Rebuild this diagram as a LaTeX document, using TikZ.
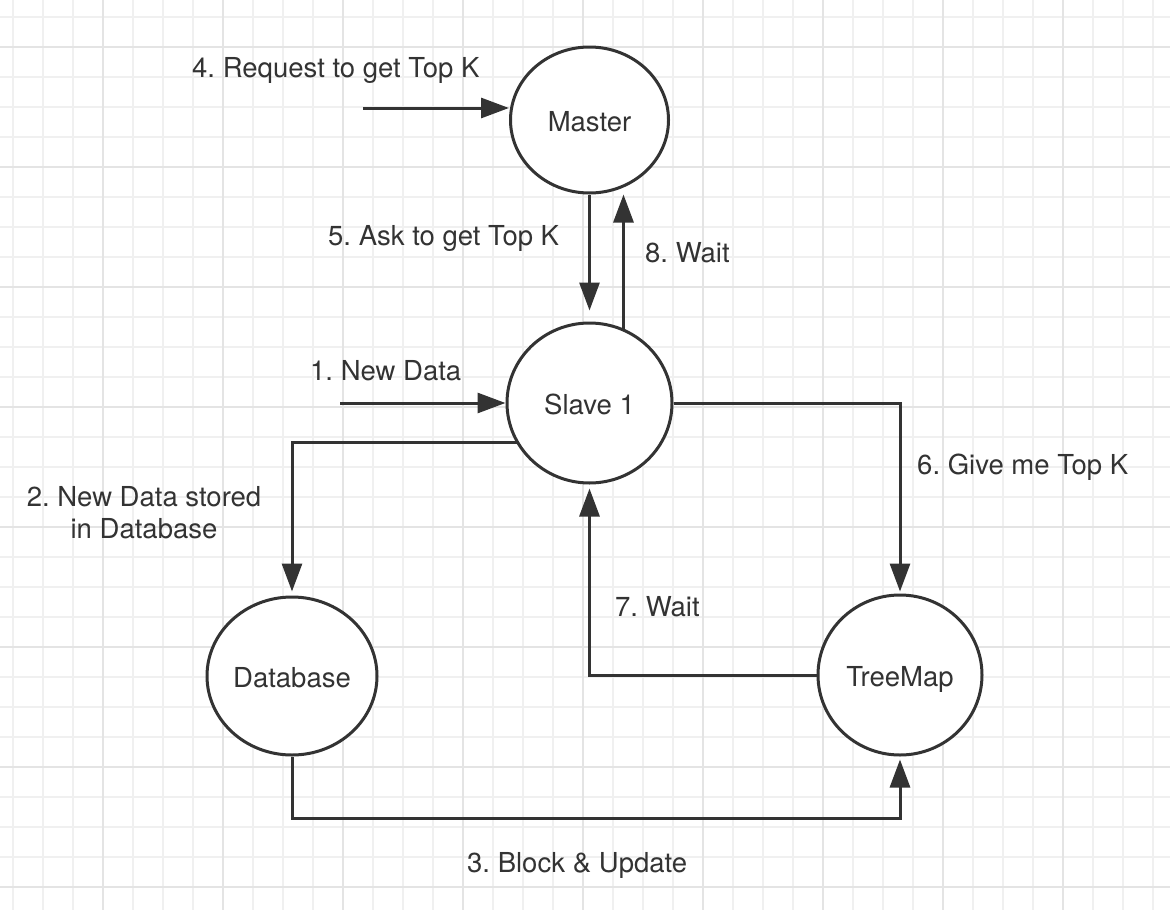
\documentclass[tikz,border=0pt]{standalone}
\usepackage{fontspec}
\setmainfont{TeX Gyre Heros}
\usetikzlibrary{shapes.geometric,arrows.meta}
\definecolor{ink}{HTML}{333333}
\definecolor{gridminor}{HTML}{F0F0F0}
\definecolor{gridmajor}{HTML}{E4E4E4}
\tikzset{
  stage/.style={ellipse,draw=ink,line width=3pt,fill=white,inner sep=0pt,
    text=ink,font=\fontsize{27.5}{32}\selectfont,text height=23pt,text depth=0pt},
  arr/.style={draw=ink,line width=3pt,-{Triangle[length=28pt,width=20pt]}},
  lbl/.style={anchor=base west,inner sep=0pt,text=ink,font=\fontsize{27.5}{32}\selectfont},
  lblc/.style={anchor=base,inner sep=0pt,text=ink,font=\fontsize{27.5}{32}\selectfont}
}
\begin{document}
\frenchspacing
\begin{tikzpicture}[x=1pt,y=-1pt]
\useasboundingbox (0,0) rectangle (1170,910);
\fill[white] (0,0) rectangle (1170,910);
% grid
\foreach \gx in {13,43,...,1170} \draw[gridminor,line width=1.3pt] (\gx,0) -- (\gx,910);
\foreach \gy in {17,47,...,910} \draw[gridminor,line width=1.3pt] (0,\gy) -- (1170,\gy);
\foreach \gx in {103,223,...,1170} \draw[gridmajor,line width=1.6pt] (\gx,0) -- (\gx,910);
\foreach \gy in {47,167,...,910} \draw[gridmajor,line width=1.6pt] (0,\gy) -- (1170,\gy);
% nodes
\node[stage,minimum width=158pt,minimum height=146pt] (master) at (589.5,120) {Master};
\node[stage,minimum width=165pt,minimum height=160pt] (slave) at (589.5,403) {Slave 1};
\node[stage,minimum width=170pt,minimum height=158pt] (database) at (292,676) {Database};
\node[stage,minimum width=164pt,minimum height=160pt] (treemap) at (900,675) {TreeMap};
% free ends
\coordinate (reqstart) at (363,108);
\coordinate (ndstart) at (340,403);
% connectors
\draw[arr] (reqstart) -- (reqstart -| master.west);
\draw[arr,shorten >=11pt] (master.south) -- (slave.north);
\draw[arr] ([xshift=34pt,yshift=-7pt]slave.north) -- ([xshift=34pt]master.south);
\draw[arr] (ndstart) -- (slave.west);
\draw[arr] ([xshift=-72pt,yshift=-39pt]slave.center) -| ([yshift=4pt]database.north);
\draw[arr] (database.south) -- ++(0,62) -| ([yshift=-3pt]treemap.south);
\draw[arr] (slave.east) -| ([yshift=2pt]treemap.north);
\draw[arr] (treemap.west) -| ([yshift=-4pt]slave.south);
% labels
\node[lbl] (l4) at (192,77) {4. Request to get Top K};
\node[lbl] (l5) at (328,245) {5. Ask to get Top K};
\node[lbl] (l8) at (645,262) {8. Wait};
\node[lbl] (l1) at (310,380) {1. New Data};
\node[lbl] (l6) at (917,474) {6. Give me Top K};
\node[lblc] (l2a) at (144,506) {2. New Data stored};
\node[lblc] (l2b) at (144,538) {in Database};
\node[lbl] (l7) at (615,616) {7. Wait};
\node[lbl] (l3) at (467,872) {3. Block \& Update};
\end{tikzpicture}
\end{document}
